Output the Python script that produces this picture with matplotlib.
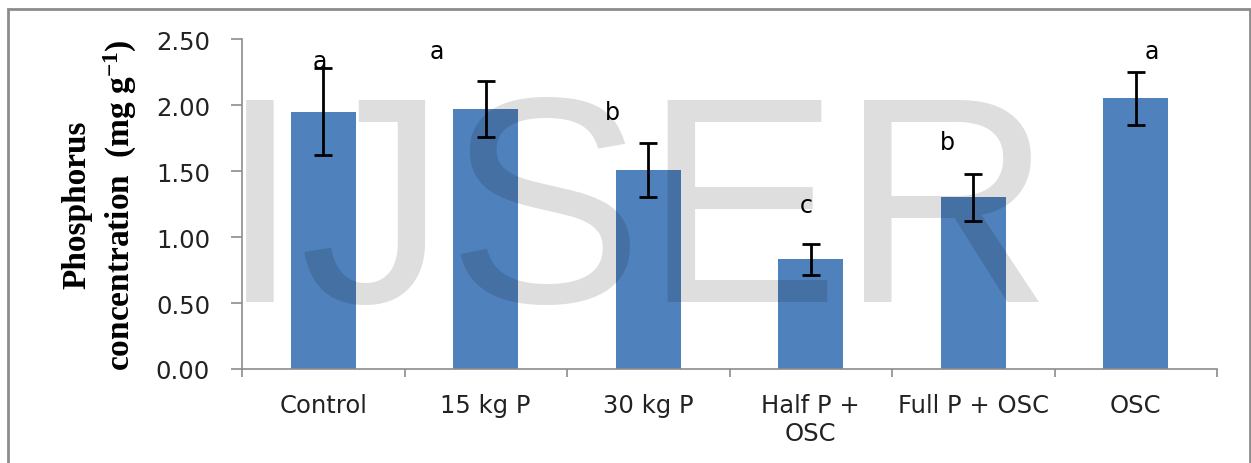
import numpy as np
import matplotlib
matplotlib.use("Agg")
import matplotlib.pyplot as plt
from matplotlib.patches import Rectangle

plt.rcParams['mathtext.default'] = 'regular'

# data
categories = ['Control', '15 kg P', '30 kg P', 'Half P +\nOSC', 'Full P + OSC', 'OSC']
means = [1.95, 1.97, 1.51, 0.83, 1.30, 2.05]
errors = [0.33, 0.21, 0.205, 0.12, 0.18, 0.20]
letters = ['a', 'a', 'b', 'c', 'b', 'a']

# where the significance letters sit (x offset from bar centre, y in data units)
letter_dx = [-0.02, -0.30, -0.22, -0.03, -0.16, 0.10]
letter_y = [2.33, 2.41, 1.95, 1.24, 1.72, 2.41]

W, H = 1251, 464
fig = plt.figure(figsize=(W / 100, H / 100), dpi=100)
ax = fig.add_axes([242 / W, 1 - 370 / H, (1217 - 242) / W, (370 - 40) / H])

x = np.arange(len(categories))
ax.bar(x, means, width=0.4, color='#4f81bd', zorder=2)
ax.errorbar(x, means, yerr=errors, fmt='none', ecolor='black',
            elinewidth=2, capsize=6.5, capthick=2, zorder=3)

for xi, dx, ly, lt in zip(x, letter_dx, letter_y, letters):
    ax.text(xi + dx, ly, lt, ha='center', va='center', fontsize=17,
            family='DejaVu Sans', zorder=4)

ax.set_xlim(-0.5, len(categories) - 0.5)
ax.set_ylim(0, 2.5)
ax.set_yticks(np.arange(0, 2.51, 0.5))
ax.set_yticklabels([f'{v:.2f}' for v in np.arange(0, 2.51, 0.5)])
ax.set_xticks(x)
ax.set_xticklabels(categories, linespacing=1.25)
ax.set_xticks(np.arange(-0.5, len(categories), 1), minor=True)

for s in ['top', 'right']:
    ax.spines[s].set_visible(False)
for s in ['left', 'bottom']:
    ax.spines[s].set_color('#8c8c8c')
    ax.spines[s].set_linewidth(1.2)

ax.tick_params(axis='y', length=8, width=1.2, color='#8c8c8c', pad=15,
               labelsize=17.5, labelcolor='#222222')
ax.tick_params(axis='x', which='major', length=0, pad=17, labelsize=17.5,
               labelcolor='#222222')
ax.tick_params(axis='x', which='minor', length=6, width=1.2, color='#8c8c8c')

fig.text(100 / W, 1 - 205 / H, 'Phosphorus\nconcentration  (mg g$^{-1}$)',
         rotation=90, ha='center', va='center', fontsize=24,
         family='Liberation Serif', fontweight='bold', linespacing=1.35,
         multialignment='center')

# watermark
fig.text(219 / W, 1 - 302 / H, 'IJSER', ha='left', va='baseline',
         fontsize=212, family='Liberation Sans', color='black', alpha=0.13,
         zorder=10)

# outer frame
fig.patches.append(Rectangle((8 / W, -0.05), (1250 - 8) / W, 1.05 - 10 / H,
                             transform=fig.transFigure, fill=False,
                             edgecolor='#8c8c8c', linewidth=2))

fig.savefig('out.png', dpi=100, facecolor='white')
